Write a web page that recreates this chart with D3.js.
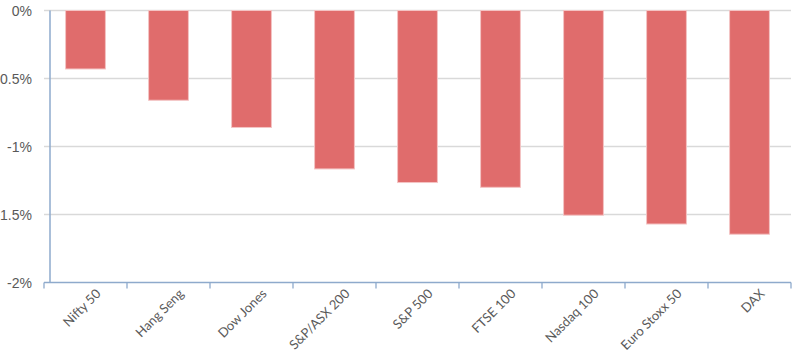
<!doctype html>
<meta charset="utf-8">
<title>Index returns</title>
<script src="https://cdnjs.cloudflare.com/ajax/libs/d3/7.8.5/d3.min.js"></script>
<style>
body { margin: 0; background: #fff; }
.grid line { stroke: #d9d9d9; stroke-width: 1.3; }
.ylab { font: 14px "Liberation Sans", Arial, sans-serif; fill: #595959; }
.xlab { font: 13px Lato, "Open Sans", sans-serif; fill: #595959; }
.bar { fill: #e06c6c; stroke: #f4c4c4; stroke-width: 1; }
</style>
<svg id="svg" width="801" height="364"></svg>
<script>
var indices = ["Nifty 50", "Hang Seng", "Dow Jones", "S&P/ASX 200", "S&P 500",
               "FTSE 100", "Nasdaq 100", "Euro Stoxx 50", "DAX"];
var changes = [-0.43, -0.66, -0.86, -1.165, -1.265, -1.30, -1.505, -1.57, -1.645];
var yTicks = [0, -0.5, -1, -1.5, -2];
var yTickLabels = ["0%", "-0.5%", "-1%", "-1.5%", "-2%"];

var svg = d3.select("svg");
var left = 44, right = 791, axisX = 50;

var x = d3.scaleBand().domain(indices).range([left, right])
  .paddingInner(0.52).paddingOuter(0.26);
var y = d3.scaleLinear().domain([0, -2]).range([10.5, 282.5]);

// gridlines
svg.append("g").attr("class", "grid")
  .selectAll("line").data(yTicks.slice(0, -1)).enter().append("line")
  .attr("x1", left).attr("x2", right)
  .attr("y1", function(d) { return y(d); })
  .attr("y2", function(d) { return y(d); });

svg.append("g").selectAll("text").data(yTicks).enter().append("text")
  .attr("class", "ylab")
  .attr("x", 32).attr("y", function(d) { return y(d) + 5; })
  .attr("text-anchor", "end")
  .text(function(d, i) { return yTickLabels[i]; });

// bars
svg.append("g").selectAll("rect").data(indices).enter().append("rect")
  .attr("class", "bar")
  .attr("x", function(d) { return x(d); })
  .attr("width", x.bandwidth())
  .attr("y", y(0))
  .attr("height", function(d, i) { return y(changes[i]) - y(0); });

// y axis line
svg.append("line")
  .attr("x1", axisX).attr("x2", axisX)
  .attr("y1", y(0)).attr("y2", y(-2))
  .attr("stroke", "#8eaacc").attr("stroke-width", 1.5);

// x axis with ticks at category boundaries
var step = x.step();
var xAxis = svg.append("g").attr("stroke", "#8eaacc").attr("stroke-width", 1.3);
xAxis.append("line").attr("x1", left).attr("x2", right)
  .attr("y1", y(-2)).attr("y2", y(-2));
xAxis.selectAll("line.tick").data(d3.range(indices.length + 1)).enter().append("line")
  .attr("class", "tick")
  .attr("x1", function(i) { return left + i * step; })
  .attr("x2", function(i) { return left + i * step; })
  .attr("y1", y(-2)).attr("y2", y(-2) + 6);

svg.append("g").selectAll("text").data(indices).enter().append("text")
  .attr("class", "xlab")
  .attr("text-anchor", "end")
  .attr("transform", function(d) {
    return "translate(" + (x(d) + x.bandwidth() / 2 + 16) + "," + (y(-2) + 12) + ") rotate(-45)";
  })
  .text(function(d) { return d; });
</script>
